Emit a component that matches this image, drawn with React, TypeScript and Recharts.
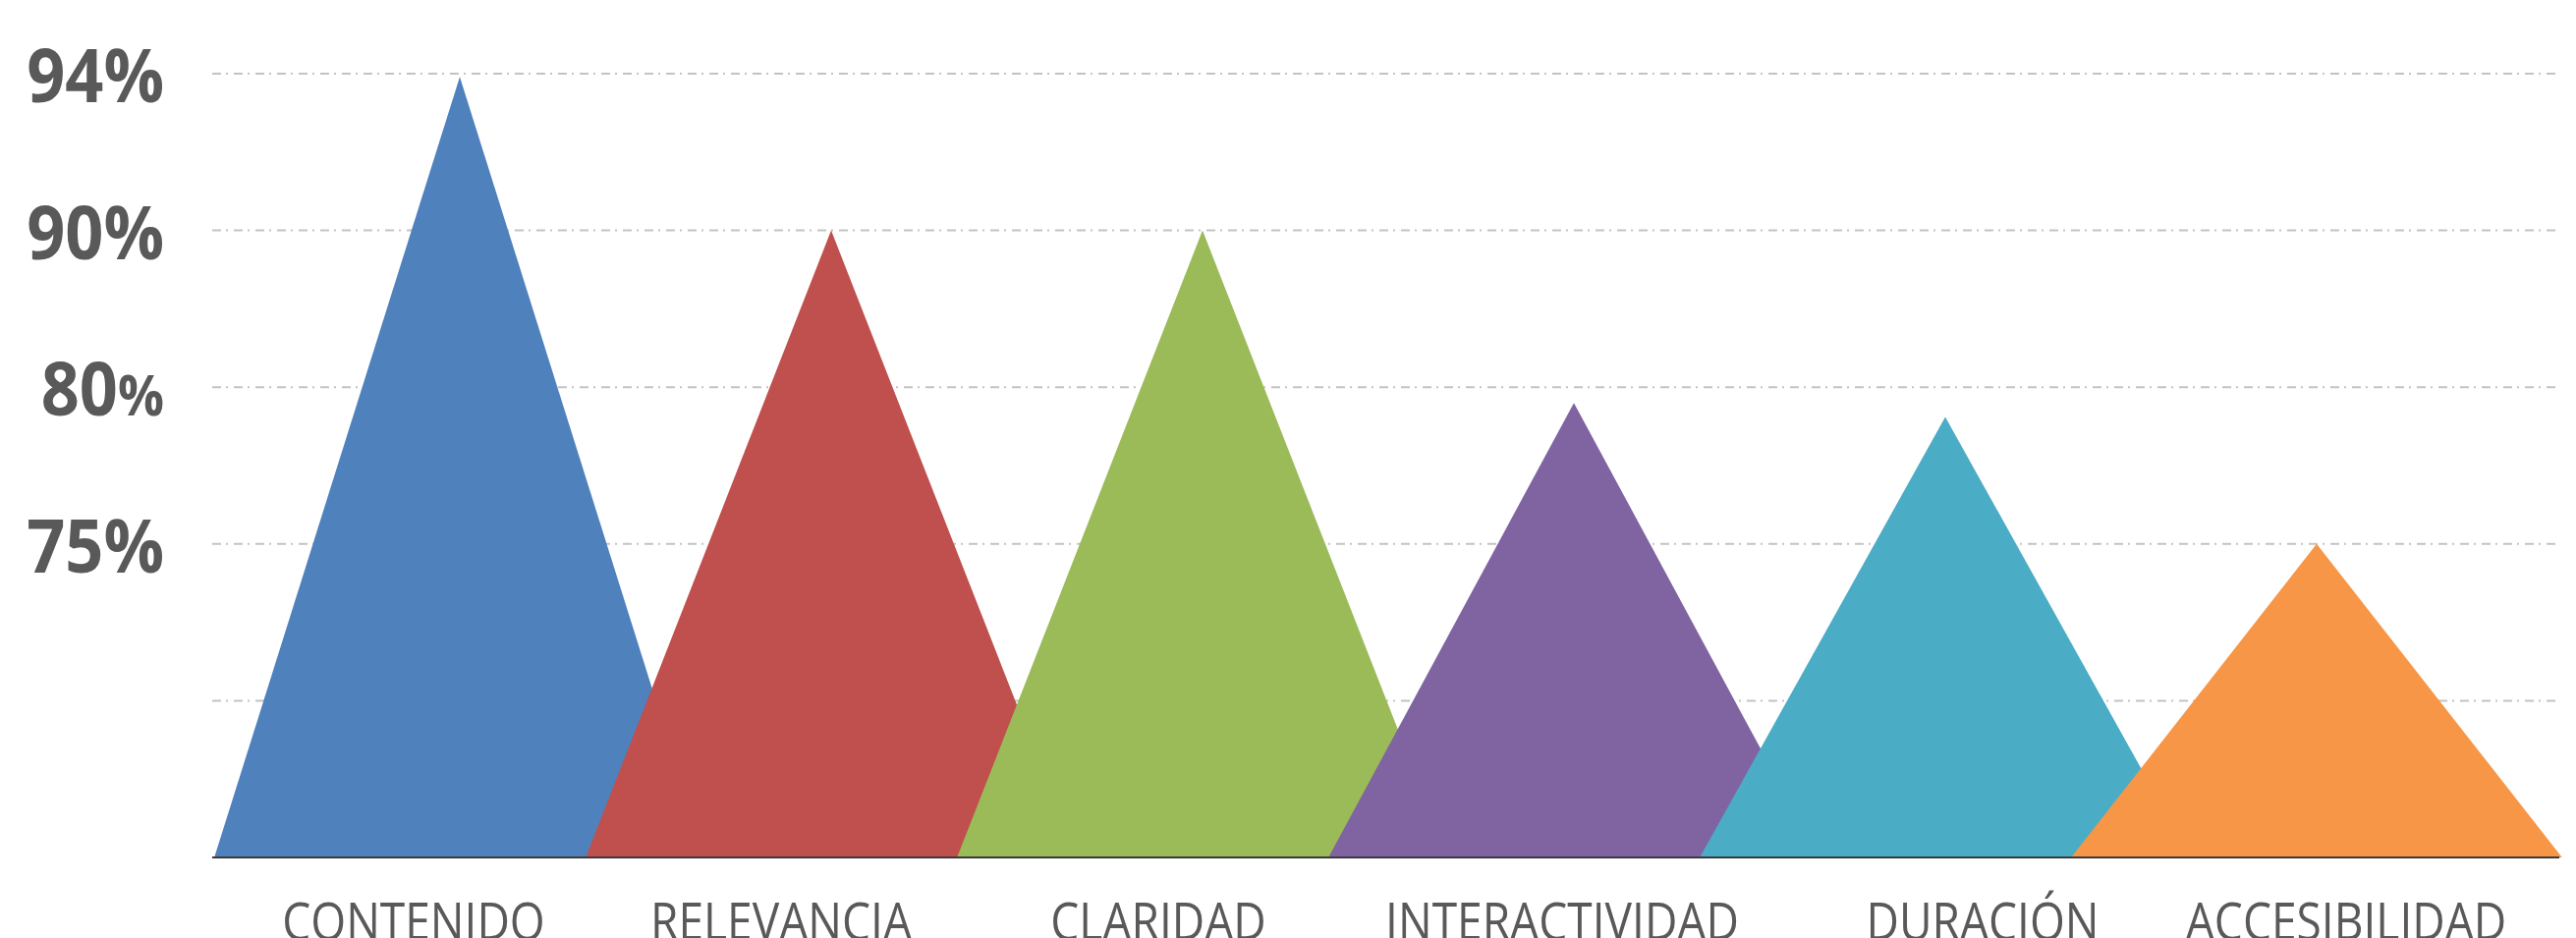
import { Bar, BarChart, CartesianGrid, Cell, XAxis, YAxis } from "recharts";

const categories = [
  "CONTENIDO",
  "RELEVANCIA",
  "CLARIDAD",
  "INTERACTIVIDAD",
  "DURACIÓN",
  "ACCESIBILIDAD",
];

// heights on the chart's level scale (one gridline per level)
const levels = [4.98, 4.0, 4.0, 2.9, 2.81, 2.0];

const colors = ["#4F81BD", "#C0504D", "#9BBB59", "#8064A2", "#4BACC6", "#F79646"];

const tickLevels = [0, 1, 2, 3, 4, 5];
const tickLabels = ["", "", "75%", "80%", "90%", "94%"];

const rows = categories.map((name, i) => ({ name, level: levels[i] }));

const labelShift = [-47, -51, -45, -12, 38, 30];

function Triangle(props: any) {
  const { x, y, width, height, fill } = props;
  const cx = x + width / 2;
  const half = width * 0.661;
  const base = y + height;
  return (
    <path
      d={`M${cx - half},${base} L${cx},${y} L${cx + half},${base} Z`}
      fill={fill}
    />
  );
}

// narrow the labels a bit, the original font is a condensed one
function CategoryTick(props: any) {
  const { x, y, payload, index } = props;
  const tx = x + (labelShift[index] ?? 0);
  return (
    <g transform={`translate(${tx},${y + 84}) scale(0.87,1)`}>
      <text
        x={0}
        y={0}
        textAnchor="middle"
        fill="#595959"
        fontSize={53}
        fontFamily="'Open Sans', sans-serif"
      >
        {payload.value}
      </text>
    </g>
  );
}

function LevelTick(props: any) {
  const { x, y, payload } = props;
  const label = tickLabels[payload.value] ?? "";
  if (!label) return null;
  const num = label.replace("%", "");
  const smallPct = label === "80%";
  return (
    <g transform={`translate(${x - 49},${y + 29}) scale(0.9,1)`}>
      <text
        x={0}
        y={0}
        textAnchor="end"
        fill="#595959"
        fontSize={76}
        fontWeight={700}
        fontFamily="'Open Sans', sans-serif"
      >
        {num}
        <tspan fontSize={smallPct ? 58 : 76}>%</tspan>
      </text>
    </g>
  );
}

export default function App() {
  return (
    <div style={{ width: 2622, height: 955, overflow: "hidden", background: "#fff" }}>
      <style>{"body{margin:0}"}</style>
      <BarChart
        width={2622}
        height={990}
        data={rows}
        margin={{ top: 75, right: 17, bottom: 0, left: 0 }}
        barCategoryGap={0}
      >
        <CartesianGrid
          vertical={false}
          stroke="#c3c3c3"
          strokeWidth={2}
          strokeDasharray="9 5 2 6"
        />
        <XAxis
          dataKey="name"
          height={117}
          padding={{ left: 63, right: 58 }}
          axisLine={{ stroke: "#3a3a3a", strokeWidth: 2 }}
          tickLine={false}
          tickSize={0}
          tickMargin={0}
          interval={0}
          tick={<CategoryTick />}
        />
        <YAxis
          width={216}
          domain={[0, 5]}
          ticks={tickLevels}
          axisLine={false}
          tickLine={false}
          tickSize={0}
          tickMargin={0}
          tick={<LevelTick />}
        />
        <Bar dataKey="level" shape={<Triangle />} isAnimationActive={false}>
          {rows.map((r, i) => (
            <Cell key={r.name} fill={colors[i]} />
          ))}
        </Bar>
      </BarChart>
    </div>
  );
}
